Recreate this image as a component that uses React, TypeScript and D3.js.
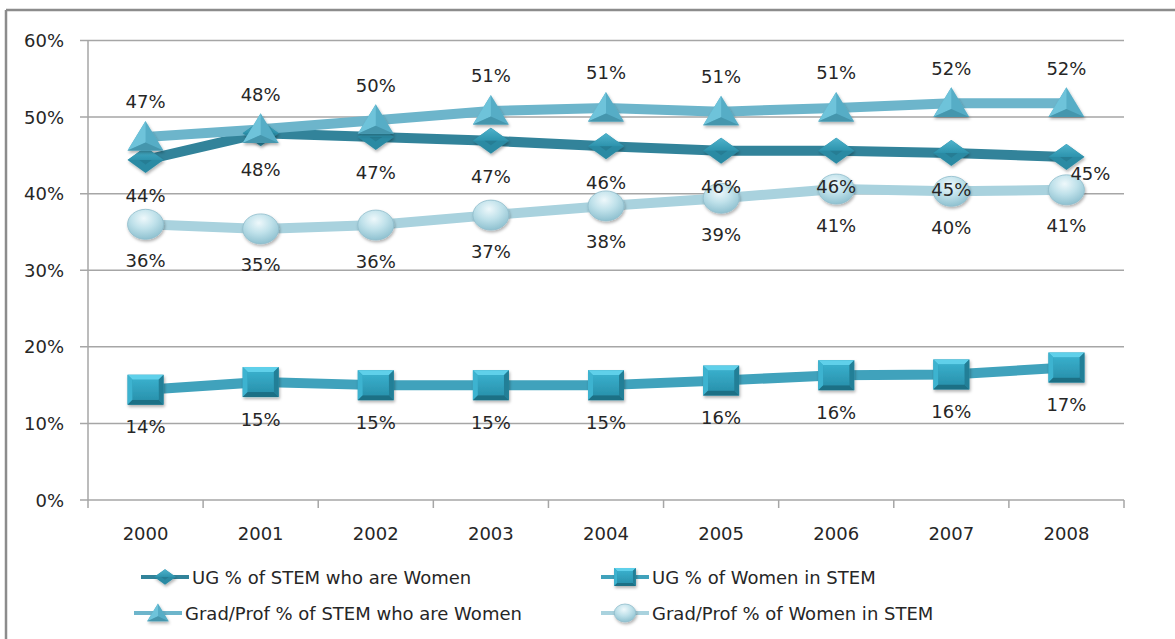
import React from "react";
import * as d3 from "d3";

const years = ["2000", "2001", "2002", "2003", "2004", "2005", "2006", "2007", "2008"];
const ugStemWomen = [44.4, 47.9, 47.4, 46.9, 46.2, 45.6, 45.6, 45.3, 44.8];
const ugWomenInStem = [14.4, 15.4, 15.0, 15.0, 15.0, 15.6, 16.3, 16.4, 17.3];
const gradStemWomen = [47.4, 48.4, 49.6, 50.8, 51.2, 50.7, 51.2, 51.8, 51.8];
const gradWomenInStem = [36.0, 35.4, 35.9, 37.2, 38.4, 39.4, 40.6, 40.3, 40.5];
const yTicks = [0, 10, 20, 30, 40, 50, 60];
const seriesNames = [
  "UG % of STEM who are Women",
  "UG % of Women in STEM",
  "Grad/Prof % of STEM who are Women",
  "Grad/Prof % of Women in STEM",
];

const W = 1175;
const H = 639;
const left = 88;
const right = 1124;
const top = 40.5;
const bottom = 500;
const FONT = "'DejaVu Sans', Verdana, sans-serif";
const TXT = "#262626";

type Kind = "diamond" | "square" | "triangle" | "circle";

function Marker({ kind, x, y, s = 1 }: { kind: Kind; x: number; y: number; s?: number }) {
  const w = 18 * s;
  if (kind === "diamond") {
    const h = 13 * s;
    return (
      <g filter="url(#shadow)">
        <polygon points={`${x},${y - h} ${x + w},${y} ${x},${y + h} ${x - w},${y}`} fill="#2b8aa3" />
        <polygon points={`${x},${y - h} ${x + w},${y} ${x - w},${y}`} fill="url(#gDiaTop)" />
        <polygon points={`${x - w * 0.35},${y} ${x + w * 0.35},${y} ${x},${y + h * 0.35}`} fill="#1f6f85" opacity={0.5} />
      </g>
    );
  }
  if (kind === "square") {
    const h = 15 * s;
    const b = 5 * s;
    return (
      <g filter="url(#shadow)">
        <rect x={x - w} y={y - h} width={2 * w} height={2 * h} fill="#2f9ab6" />
        <polygon points={`${x - w},${y - h} ${x + w},${y - h} ${x + w - b},${y - h + b} ${x - w + b},${y - h + b}`} fill="#5fd0ea" />
        <polygon points={`${x - w},${y - h} ${x - w + b},${y - h + b} ${x - w + b},${y + h - b} ${x - w},${y + h}`} fill="#3db3d0" />
        <polygon points={`${x + w},${y - h} ${x + w},${y + h} ${x + w - b},${y + h - b} ${x + w - b},${y - h + b}`} fill="#237f97" />
        <polygon points={`${x - w},${y + h} ${x + w},${y + h} ${x + w - b},${y + h - b} ${x - w + b},${y + h - b}`} fill="#1d6f85" />
        <rect x={x - w + b} y={y - h + b} width={2 * (w - b)} height={2 * (h - b)} fill="url(#gSq)" />
      </g>
    );
  }
  if (kind === "triangle") {
    const h = 16 * s;
    return (
      <g filter="url(#shadow)">
        <polygon points={`${x},${y - h} ${x + w},${y + h * 0.85} ${x - w},${y + h * 0.85}`} fill="#57adc6" />
        <polygon points={`${x},${y - h} ${x},${y + h * 0.35} ${x - w},${y + h * 0.85}`} fill="#6ec3da" />
        <polygon points={`${x},${y + h * 0.35} ${x + w},${y + h * 0.85} ${x - w},${y + h * 0.85}`} fill="#4596ad" />
      </g>
    );
  }
  return (
    <g filter="url(#shadow)">
      <ellipse cx={x} cy={y} rx={w} ry={15 * s} fill="url(#gCirc)" stroke="#8fbccb" strokeWidth={0.8} />
    </g>
  );
}

export default function App() {
  const x = d3.scaleBand<string>().domain(years).range([left, right]);
  const y = d3.scaleLinear().domain([0, 60]).range([bottom, top]);
  const cx = (yr: string) => (x(yr) as number) + x.bandwidth() / 2;
  const line = d3
    .line<number>()
    .x((_, i) => cx(years[i]))
    .y((v) => y(v));

  const series: { data: number[]; color: string; kind: Kind; dy: number }[] = [
    { data: gradWomenInStem, color: "#a9d2de", kind: "circle", dy: 36 },
    { data: ugWomenInStem, color: "#40a2bc", kind: "square", dy: 37 },
    { data: ugStemWomen, color: "#32839a", kind: "diamond", dy: 36 },
    { data: gradStemWomen, color: "#6db5cb", kind: "triangle", dy: -35 },
  ];

  const legend = [
    { name: seriesNames[0], color: "#32839a", kind: "diamond" as Kind, lx: 141, ly: 577 },
    { name: seriesNames[1], color: "#40a2bc", kind: "square" as Kind, lx: 601, ly: 577 },
    { name: seriesNames[2], color: "#6db5cb", kind: "triangle" as Kind, lx: 134, ly: 613 },
    { name: seriesNames[3], color: "#a9d2de", kind: "circle" as Kind, lx: 601, ly: 613 },
  ];

  return (
    <svg width={W} height={H} style={{ position: "absolute", left: 0, top: 0, background: "#fff" }}>
      <defs>
        <filter id="shadow" x="-30%" y="-30%" width="160%" height="170%">
          <feDropShadow dx="1" dy="2" stdDeviation="1.5" floodColor="#000" floodOpacity="0.3" />
        </filter>
        <linearGradient id="gDiaTop" x1="0" y1="0" x2="0" y2="1">
          <stop offset="0" stopColor="#4fb3cc" />
          <stop offset="1" stopColor="#2d93ad" />
        </linearGradient>
        <linearGradient id="gSq" x1="0" y1="0" x2="0" y2="1">
          <stop offset="0" stopColor="#38aecb" />
          <stop offset="1" stopColor="#2a93ae" />
        </linearGradient>
        <radialGradient id="gCirc" cx="0.45" cy="0.3" r="0.7">
          <stop offset="0" stopColor="#eef8fb" />
          <stop offset="0.5" stopColor="#bfe1ea" />
          <stop offset="1" stopColor="#8fc1d0" />
        </radialGradient>
      </defs>

      {/* outer frame */}
      <line x1={6} y1={10} x2={W} y2={10} stroke="#8c8c8c" strokeWidth={2.5} />
      <line x1={6} y1={10} x2={6} y2={H} stroke="#8c8c8c" strokeWidth={2.5} />

      {/* gridlines & y ticks */}
      {yTicks.map((t) => (
        <g key={t}>
          <line x1={80} x2={right} y1={y(t)} y2={y(t)} stroke="#a6a6a6" strokeWidth={1.5} />
          <text x={64} y={y(t)} textAnchor="end" dominantBaseline="central" fontFamily={FONT} fontSize={18} fill={TXT}>
            {t}%
          </text>
        </g>
      ))}
      <line x1={left} x2={left} y1={top} y2={bottom + 8} stroke="#a6a6a6" strokeWidth={1.5} />
      {years.map((yr, i) => (
        <g key={yr}>
          <line x1={(x(yr) as number) + x.bandwidth()} x2={(x(yr) as number) + x.bandwidth()} y1={bottom} y2={bottom + 8} stroke="#a6a6a6" strokeWidth={1.5} />
          <text x={cx(yr)} y={533} textAnchor="middle" dominantBaseline="central" fontFamily={FONT} fontSize={18} fill={TXT}>
            {yr}
          </text>
        </g>
      ))}

      {/* lines */}
      {series.map((s) => (
        <path key={s.kind} d={line(s.data) as string} fill="none" stroke={s.color} strokeWidth={10} strokeLinejoin="round" />
      ))}
      {/* markers */}
      {series.map((s) => (
        <g key={s.kind + "m"}>
          {s.data.map((v, i) => (
            <Marker key={i} kind={s.kind} x={cx(years[i])} y={y(v)} />
          ))}
        </g>
      ))}
      {/* labels */}
      {series.map((s) => (
        <g key={s.kind + "l"}>
          {s.data.map((v, i) => {
            const isLastDia = s.kind === "diamond" && i === years.length - 1;
            return (
              <text
                key={i}
                x={cx(years[i]) + (isLastDia ? 24 : 0)}
                y={y(v) + (isLastDia ? 17 : s.dy)}
                textAnchor="middle"
                dominantBaseline="central"
                fontFamily={FONT}
                fontSize={18}
                fill={TXT}
              >
                {Math.round(v)}%
              </text>
            );
          })}
        </g>
      ))}

      {/* legend */}
      {legend.map((l) => (
        <g key={l.name}>
          <line x1={l.lx} x2={l.lx + 48} y1={l.ly} y2={l.ly} stroke={l.color} strokeWidth={4} />
          <Marker kind={l.kind} x={l.lx + 24} y={l.ly} s={0.6} />
          <text x={l.lx + 51} y={l.ly} dominantBaseline="central" fontFamily={FONT} fontSize={18} fill={TXT}>
            {l.name}
          </text>
        </g>
      ))}
    </svg>
  );
}
